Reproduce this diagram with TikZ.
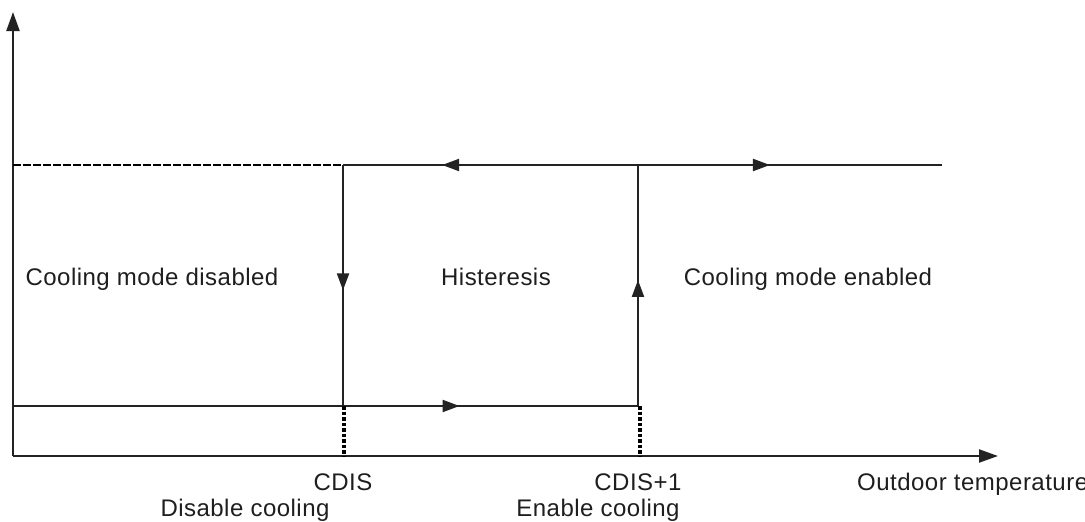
\documentclass[tikz,border=0pt]{standalone}
\usepackage{fontspec}
\setmainfont{Liberation Sans}[LetterSpace=2.0]
\usetikzlibrary{arrows.meta,decorations.markings}
\tikzset{
  axis/.style={line width=2.2pt,draw={rgb,255:red,35;green,35;blue,35},-{Triangle[length=19pt,width=13pt]}},
  path/.style={line width=2.2pt,draw={rgb,255:red,35;green,35;blue,35}},
  dashpath/.style={line width=2.2pt,draw=black,dash pattern=on 8pt off 2pt},
  dotpath/.style={line width=3.4pt,draw=black,dash pattern=on 3.5pt off 2pt},
  midarrow/.style={postaction={decorate},decoration={markings,mark=at position #1 with {\arrow{Triangle[length=17pt,width=12pt]}}}},
  lbl/.style={font=\fontsize{24}{28}\selectfont,text={rgb,255:red,30;green,30;blue,30},inner sep=0pt,anchor=base},
}
\begin{document}
\begin{tikzpicture}[x=1pt,y=-1pt]
\useasboundingbox (0,0) rectangle (1085,522);
\clip (0,0) rectangle (1085,522);
% coordinates
\coordinate (O) at (13,456);
\coordinate (Ytop) at (13,12);
\coordinate (Xend) at (998,456);
\coordinate (TL) at (13,165);
\coordinate (TA) at (343,165);
\coordinate (TB) at (638,165);
\coordinate (TR) at (942,165);
\coordinate (BL) at (13,406);
\coordinate (BA) at (343,406);
\coordinate (BB) at (638,406);
\coordinate (XA) at (344,456);
\coordinate (XB) at (640,456);
\coordinate (BA2) at (344,406);
\coordinate (BB2) at (640,406);
% axes
\draw[axis] (O) -- (Ytop);
\draw[axis] (O) -- (Xend);
% top line
\draw[dashpath] (TL) -- (TA);
\draw[path,midarrow=0.664] (TB) -- (TA);
\draw[path,midarrow=0.434] (TB) -- (TR);
% verticals
\draw[path,midarrow=0.52] (TA) -- (BA);
\draw[path,midarrow=0.523] (BB) -- (TB);
% bottom line
\draw[path] (BL) -- (BA);
\draw[path,midarrow=0.395] (BA) -- (BB);
% dotted extensions
\draw[dotpath] (BA2) -- (XA);
\draw[dotpath] (BB2) -- (XB);
% labels
\node[lbl] (dis) at (152,285) {Cooling mode disabled};
\node[lbl] (his) at (496,285) {Histeresis};
\node[lbl] (en) at (808,285) {Cooling mode enabled};
\node[lbl] (cdis) at (343,490) {CDIS};
\node[lbl] (dcool) at (245,516) {Disable cooling};
\node[lbl] (cdis1) at (638,490) {CDIS+1};
\node[lbl] (ecool) at (598,516) {Enable cooling};
\node[lbl,anchor=base west] (out) at (857,490) {Outdoor temperature};
\end{tikzpicture}
\end{document}
